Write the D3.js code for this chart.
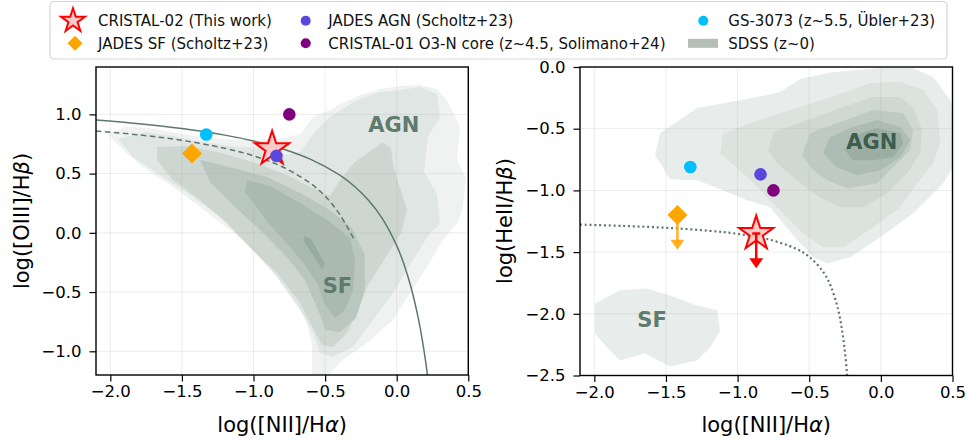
<!DOCTYPE html>
<html>
<head>
<meta charset="utf-8">
<script src="https://cdn.jsdelivr.net/npm/d3@7"></script>
<style>
  body { margin: 0; background: #fff; }
  svg { font-family: "DejaVu Sans", sans-serif; }
  .axis line { stroke: #000; stroke-width: 1.2; }
  .axis path { display: none; }
</style>
</head>
<body>
<div id="chart"></div>
<script>
// ---- data ----
const xTicks = [-2, -1.5, -1, -0.5, 0, 0.5];
const bptTicks = [-1, -0.5, 0, 0.5, 1];
const heiiTicks = [-2.5, -2, -1.5, -1, -0.5, 0];

const sourceNames = ["CRISTAL-02", "JADES SF", "JADES AGN", "CRISTAL-01 O3-N core", "GS-3073"];
const niiHa = [-0.87, -1.43, -0.84, -0.75, -1.33];
const oiiiHb = [0.71, 0.67, 0.65, 1.00, 0.83];
const niiHaHe = [-0.87, -1.42, -0.84, -0.75, -1.33];
const heiiHb = [-1.35, -1.20, -0.87, -1.00, -0.81];
const heiiUpperTo = [-1.63, -1.48, null, null, null];

const legendLabels = [
  "CRISTAL-02 (This work)", "JADES AGN (Scholtz+23)", "GS-3073 (z~5.5, Übler+23)",
  "JADES SF (Scholtz+23)", "CRISTAL-01 O3-N core (z~4.5, Solimano+24)", "SDSS (z~0)"
];

// demarcation lines
const kewleyLine = [[-2.1,0.953],[-1.8,0.921],[-1.5,0.880],[-1.2,0.825],[-1.0,0.775],[-0.8,0.710],[-0.6,0.620],
  [-0.4,0.489],[-0.3,0.398],[-0.2,0.280],[-0.1,0.120],[0.0,-0.108],[0.05,-0.262],[0.1,-0.459],[0.15,-0.716],
  [0.18,-0.913],[0.2,-1.069],[0.21,-1.156],[0.22,-1.25]];
const dashedLine = [[-2.1,0.860],[-1.8,0.827],[-1.5,0.781],[-1.2,0.714],[-1.0,0.650],[-0.8,0.558],[-0.6,0.416],
  [-0.5,0.310],[-0.4,0.160],[-0.3,-0.050]];
const heiiLine = [[-2.1,-1.277],[-1.8,-1.288],[-1.5,-1.303],[-1.2,-1.327],[-1.0,-1.352],[-0.8,-1.392],[-0.6,-1.468],
  [-0.5,-1.538],[-0.4,-1.665],[-0.35,-1.775],[-0.3,-1.957],[-0.27,-2.139],[-0.25,-2.319],[-0.236,-2.494],[-0.23,-2.587]];

// SDSS density contours, left panel (outer to inner)
const bptLevelA = [[-2.016,0.834],[-1.897,0.893],[-1.723,0.885],[-1.541,0.843],[-1.304,0.801],[-1.094,0.784],
  [-0.941,0.784],[-0.780,0.801],[-0.675,0.834],[-0.585,0.978],[-0.466,1.037],[-0.396,1.088],[-0.235,1.172],
  [-0.117,1.214],[0.023,1.240],[0.163,1.248],[0.281,1.214],[0.351,1.121],[0.442,0.894],[0.421,0.615],
  [0.484,0.463],[0.463,0.218],[0.428,0.092],[0.323,-0.060],[0.211,-0.288],[0.093,-0.508],[-0.026,-0.736],
  [-0.208,-0.930],[-0.396,-1.090],[-0.501,-1.25],[-0.592,-1.25],[-0.592,-0.947],[-0.640,-0.694],[-0.745,-0.483],
  [-0.920,-0.246],[-1.129,-0.010],[-1.374,0.218],[-1.562,0.387],[-1.772,0.556],[-1.911,0.699]];
const bptLevelB = [[-1.946,0.792],[-1.751,0.851],[-1.562,0.818],[-1.402,0.775],[-1.164,0.733],[-0.941,0.716],
  [-0.780,0.657],[-0.675,0.682],[-0.571,0.851],[-0.466,0.978],[-0.277,1.121],[-0.117,1.189],[0.023,1.206],
  [0.163,1.231],[0.281,1.172],[0.302,0.978],[0.218,0.809],[0.191,0.514],[0.281,0.328],[0.302,0.075],
  [0.232,-0.001],[0.114,-0.229],[-0.026,-0.508],[-0.166,-0.736],[-0.305,-0.964],[-0.445,-1.048],[-0.536,-1.014],
  [-0.585,-0.845],[-0.675,-0.651],[-0.836,-0.373],[-1.025,-0.119],[-1.234,0.134],[-1.465,0.336],[-1.674,0.505],
  [-1.842,0.640]];
const bptLevelC = [[-1.674,0.725],[-1.465,0.733],[-1.255,0.682],[-1.004,0.598],[-0.766,0.488],[-0.585,0.379],
  [-0.466,0.311],[-0.396,0.446],[-0.291,0.598],[-0.173,0.699],[-0.096,0.767],[-0.040,0.716],[-0.026,0.573],
  [0.023,0.379],[0.072,0.193],[0.030,-0.001],[-0.089,-0.229],[-0.208,-0.457],[-0.277,-0.677],[-0.347,-0.845],
  [-0.445,-0.964],[-0.522,-0.947],[-0.571,-0.837],[-0.675,-0.592],[-0.836,-0.339],[-1.004,-0.145],[-1.185,0.083],
  [-1.374,0.277],[-1.562,0.446],[-1.674,0.615]];
const bptLevelD = [[-1.374,0.615],[-1.143,0.547],[-0.906,0.471],[-0.675,0.336],[-0.466,0.193],[-0.312,0.041],
  [-0.222,-0.187],[-0.222,-0.482],[-0.284,-0.719],[-0.396,-0.837],[-0.494,-0.820],[-0.550,-0.651],[-0.641,-0.398],
  [-0.780,-0.187],[-0.955,0.024],[-1.143,0.235],[-1.304,0.429]];
const bptLevelE = [[-1.046,0.446],[-0.885,0.395],[-0.675,0.252],[-0.466,0.092],[-0.326,-0.044],[-0.291,-0.229],
  [-0.305,-0.482],[-0.361,-0.651],[-0.431,-0.719],[-0.501,-0.609],[-0.550,-0.440],[-0.641,-0.271],[-0.745,-0.119],
  [-0.885,0.066],[-0.990,0.235],[-1.060,0.345]];
const bptLevelF = [[-0.641,-0.027],[-0.599,-0.052],[-0.501,-0.263],[-0.522,-0.305],[-0.571,-0.212],[-0.654,-0.060]];

// SDSS density contours, right panel (outer to inner)
const heLevel1 = [[-1.576,-0.714],[-1.541,-0.536],[-1.283,-0.333],[-0.934,-0.260],[-0.703,-0.203],[-0.564,-0.097],
  [-0.333,-0.041],[-0.005,-0.008],[0.225,-0.008],[0.365,-0.081],[0.484,-0.268],[0.55,-0.536],[0.55,-0.731],
  [0.435,-0.942],[0.225,-1.185],[-0.005,-1.380],[-0.215,-1.542],[-0.375,-1.591],[-0.473,-1.542],[-0.613,-1.364],
  [-0.773,-1.136],[-0.934,-1.080],[-1.101,-0.998],[-1.283,-0.917],[-1.472,-0.909]];
const heLevel2 = [[-1.122,-0.698],[-1.101,-0.536],[-0.892,-0.446],[-0.564,-0.325],[-0.263,-0.211],[-0.075,-0.130],
  [0.135,-0.122],[0.295,-0.187],[0.393,-0.349],[0.414,-0.617],[0.365,-0.779],[0.253,-0.942],[0.135,-1.136],
  [-0.054,-1.299],[-0.263,-1.461],[-0.403,-1.461],[-0.543,-1.347],[-0.752,-1.104],[-0.962,-0.860]];
const heLevel3 = [[-0.787,-0.674],[-0.752,-0.528],[-0.473,-0.414],[-0.284,-0.333],[-0.054,-0.244],[0.135,-0.244],
  [0.225,-0.325],[0.288,-0.511],[0.274,-0.698],[0.184,-0.860],[0.044,-1.023],[-0.124,-1.136],[-0.284,-1.136],
  [-0.424,-1.055],[-0.585,-0.917],[-0.724,-0.779]];
const heLevel4 = [[-0.550,-0.714],[-0.494,-0.536],[-0.284,-0.446],[-0.054,-0.349],[0.156,-0.373],[0.225,-0.511],
  [0.205,-0.674],[0.086,-0.812],[-0.026,-0.942],[-0.236,-0.982],[-0.375,-0.917],[-0.473,-0.836]];
const heLevel5 = [[-0.403,-0.698],[-0.354,-0.568],[-0.194,-0.487],[-0.026,-0.430],[0.135,-0.487],[0.205,-0.593],
  [0.135,-0.731],[-0.005,-0.836],[-0.166,-0.877],[-0.306,-0.812]];
const heLevel6 = [[-0.249,-0.674],[-0.215,-0.568],[-0.026,-0.495],[0.135,-0.536],[0.156,-0.617],[0.086,-0.731],
  [-0.054,-0.755],[-0.194,-0.755]];
const heSF = [[-1.995,-1.916],[-1.821,-1.810],[-1.639,-1.794],[-1.472,-1.851],[-1.283,-1.932],[-1.143,-1.972],
  [-1.122,-2.135],[-1.192,-2.273],[-1.283,-2.378],[-1.472,-2.427],[-1.646,-2.321],[-1.821,-2.378],[-1.911,-2.273],
  [-1.995,-2.159]];

// ---- drawing ----
const width = 967, height = 443;
const lineColor = "#5e786b";
const pointColors = ["#ff0000", "#ffa500", "#5a48dc", "#800080", "#00bfff"];
const fmt = d => d3.format(".1f")(d).replace("-", "\u2212");

const svg = d3.select("#chart").append("svg")
  .attr("width", width)
  .attr("height", height);

function makePanel(id, left, top, w, h, yDomain, yTicks) {
  const g = svg.append("g").attr("transform", `translate(${left},${top})`);
  const x = d3.scaleLinear().domain([-2.1, 0.5]).range([0, w]);
  const y = d3.scaleLinear().domain(yDomain).range([h, 0]);
  g.append("clipPath").attr("id", "clip" + id)
    .append("rect").attr("width", w).attr("height", h);
  const plot = g.append("g").attr("clip-path", `url(#clip${id})`);
  return { g, x, y, plot, w, h, yTicks };
}

function addGrid(p) {
  const grid = p.plot.append("g").attr("stroke", "#b0b0b0").attr("stroke-opacity", 0.3).attr("stroke-width", 0.8);
  grid.selectAll(".gx").data(xTicks).join("line")
    .attr("x1", d => p.x(d)).attr("x2", d => p.x(d)).attr("y1", 0).attr("y2", p.h);
  grid.selectAll(".gy").data(p.yTicks).join("line")
    .attr("y1", d => p.y(d)).attr("y2", d => p.y(d)).attr("x1", 0).attr("x2", p.w);
}

function addAxes(p) {
  const xa = p.g.append("g").attr("class", "axis")
    .attr("transform", `translate(0,${p.h})`)
    .call(d3.axisBottom(p.x).tickValues(xTicks).tickFormat(fmt).tickSize(6.5).tickPadding(4));
  const ya = p.g.append("g").attr("class", "axis")
    .call(d3.axisLeft(p.y).tickValues(p.yTicks).tickFormat(fmt).tickSize(6.5).tickPadding(8));
  [xa, ya].forEach(a => a.attr("font-family", "DejaVu Sans").attr("font-size", 16.5)
    .selectAll("text").attr("fill", "#000"));
  p.g.append("rect")
    .attr("width", p.w).attr("height", p.h)
    .attr("fill", "none").attr("stroke", "#000").attr("stroke-width", 1.4);
}

function drawContours(p, levels, colors) {
  const area = d3.line().x(d => p.x(d[0])).y(d => p.y(d[1])).curve(d3.curveLinearClosed);
  p.plot.selectAll(null).data(levels).join("path")
    .attr("d", area)
    .attr("fill", (d, i) => colors[i]);
}

function regionLabel(p, txt, xv, yv, color) {
  p.plot.append("text")
    .attr("x", p.x(xv)).attr("y", p.y(yv))
    .attr("text-anchor", "middle").attr("dy", "0.36em")
    .attr("font-size", 21).attr("font-weight", "bold")
    .attr("fill", color).text(txt);
}

function starPath(r) {
  return d3.symbol().type(d3.symbolStar).size(r * r / 0.8908)();
}

function drawMarker(sel, i, cx, cy, scale) {
  const s = scale || 1;
  if (i === 0) {
    sel.append("path").attr("d", starPath(18 * s))
      .attr("transform", `translate(${cx},${cy})`)
      .attr("fill", "#ffc9c9").attr("stroke", pointColors[0]).attr("stroke-width", 2);
  } else if (i === 1) {
    const hd = 10 * s;
    sel.append("path")
      .attr("d", `M${cx},${cy - hd}L${cx + hd},${cy}L${cx},${cy + hd}L${cx - hd},${cy}Z`)
      .attr("fill", pointColors[1]);
  } else {
    sel.append("circle").attr("cx", cx).attr("cy", cy).attr("r", 6.3 * s)
      .attr("fill", pointColors[i]);
  }
}

// left: BPT
const L = makePanel("L", 96, 67, 372.3, 308, [-1.2, 1.4], bptTicks);
drawContours(L, [bptLevelA, bptLevelB, bptLevelC, bptLevelD, bptLevelE, bptLevelF],
  ["#f0f2f1", "#e0e6e3", "#cdd6d1", "#bac7c0", "#aabab1", "#97ab9f"]);
addGrid(L);
regionLabel(L, "AGN", -0.02, 0.913, "#5f7b6c");
regionLabel(L, "SF", -0.414, -0.446, "#5f7b6c");
const lineL = d3.line().x(d => L.x(d[0])).y(d => L.y(d[1])).curve(d3.curveCatmullRom);
L.plot.append("path").attr("d", lineL(kewleyLine))
  .attr("fill", "none").attr("stroke", lineColor).attr("stroke-width", 1.5);
L.plot.append("path").attr("d", lineL(dashedLine))
  .attr("fill", "none").attr("stroke", lineColor).attr("stroke-width", 1.5)
  .attr("stroke-dasharray", "5.5,3.5");
const order = [0, 1, 2, 3, 4];
order.forEach(i => drawMarker(L.plot, i, L.x(niiHa[i]), L.y(oiiiHb[i])));
addAxes(L);

// right: HeII diagram
const R = makePanel("R", 580, 67, 372.5, 308.5, [-2.5, 0], heiiTicks);
drawContours(R, [heLevel1, heLevel2, heLevel3, heLevel4, heLevel5, heLevel6, heSF],
  ["#e8ecea", "#dce2de", "#cfd8d3", "#bfcac4", "#adbcb4", "#9caea4", "#e8ecea"]);
addGrid(R);
regionLabel(R, "AGN", -0.063, -0.606, "#3e5d4f");
regionLabel(R, "SF", -1.597, -2.045, "#5f7b6c");
const lineR = d3.line().x(d => R.x(d[0])).y(d => R.y(d[1])).curve(d3.curveCatmullRom);
R.plot.append("path").attr("d", lineR(heiiLine))
  .attr("fill", "none").attr("stroke", lineColor).attr("stroke-width", 2.2)
  .attr("stroke-dasharray", "2,2.8");

order.forEach(i => {
  const cx = R.x(niiHaHe[i]), cy = R.y(heiiHb[i]);
  drawMarker(R.plot, i, cx, cy);
  if (heiiUpperTo[i] !== null) {
    const tip = R.y(heiiUpperTo[i]);
    const col = pointColors[i];
    const op = i === 1 ? 0.85 : 1;
    R.plot.append("line")
      .attr("x1", cx).attr("x2", cx).attr("y1", cy).attr("y2", tip - 6)
      .attr("stroke", col).attr("stroke-width", 2.5).attr("opacity", op);
    if (i === 0) {
      R.plot.append("line")
        .attr("x1", cx - 4).attr("x2", cx + 4).attr("y1", cy).attr("y2", cy)
        .attr("stroke", col).attr("stroke-width", 2.5);
    }
    R.plot.append("path")
      .attr("d", `M${cx - 7},${tip - 10}L${cx + 7},${tip - 10}L${cx},${tip}Z`)
      .attr("fill", col).attr("opacity", op);
  }
});
addAxes(R);

// axis titles
function titleText(sel, pre, greek, post) {
  sel.append("tspan").text(pre);
  sel.append("tspan").attr("font-style", "italic").text(greek);
  sel.append("tspan").text(post);
}
const xl1 = svg.append("text").attr("x", 96 + 372.3 / 2).attr("y", 432)
  .attr("text-anchor", "middle").attr("font-size", 21);
titleText(xl1, "log([NII]/H", "α", ")");
const xl2 = svg.append("text").attr("x", 580 + 372.5 / 2).attr("y", 432)
  .attr("text-anchor", "middle").attr("font-size", 21);
titleText(xl2, "log([NII]/H", "α", ")");
const yl1 = svg.append("text").attr("transform", `translate(29,${67 + 154}) rotate(-90)`)
  .attr("text-anchor", "middle").attr("font-size", 21);
titleText(yl1, "log([OIII]/H", "β", ")");
const yl2 = svg.append("text").attr("transform", `translate(512,${67 + 154}) rotate(-90)`)
  .attr("text-anchor", "middle").attr("font-size", 21);
titleText(yl2, "log(HeII/H", "β", ")");

// legend
const leg = svg.append("g");
leg.append("rect")
  .attr("x", 50).attr("y", 1.5).attr("width", 897).attr("height", 57.5).attr("rx", 4)
  .attr("fill", "#fff").attr("stroke", "#d5d5d5").attr("stroke-width", 1.2);
const colMarkerX = [73, 305.7, 703.3];
const colTextX = [98, 328.3, 728.3];
const rowY = [20.7, 43.3];
const legendMarkerIdx = [0, 2, 4, 1, 3, -1];
legendLabels.forEach((lab, k) => {
  const c = k % 3, r = Math.floor(k / 3);
  const mi = legendMarkerIdx[k];
  if (mi === 0) {
    drawMarker(leg, 0, colMarkerX[c], rowY[r], 12.5 / 18);
  } else if (mi === 1) {
    drawMarker(leg, 1, colMarkerX[c] + 2, rowY[r], 0.75);
  } else if (mi > 1) {
    drawMarker(leg, mi, colMarkerX[c], rowY[r], 0.8);
  } else {
    leg.append("rect").attr("x", 688).attr("y", rowY[r] - 4.5).attr("width", 30).attr("height", 9)
      .attr("fill", "#b3bfb8");
  }
  leg.append("text").attr("x", colTextX[c]).attr("y", rowY[r]).attr("dy", "0.36em")
    .attr("font-size", 15).attr("fill", "#111").text(lab);
});
</script>
</body>
</html>
